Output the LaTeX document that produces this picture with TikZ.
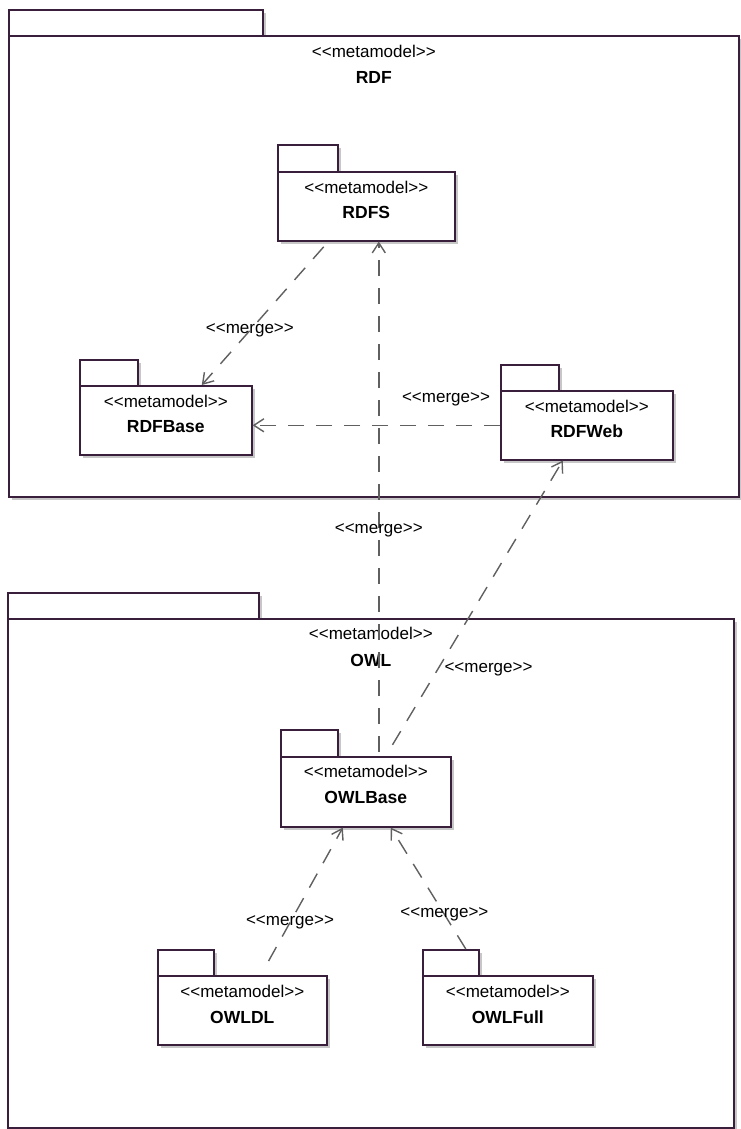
\documentclass[tikz,border=0pt]{standalone}
\usepackage{fontspec}
\setmainfont{Liberation Sans}
\usetikzlibrary{arrows.meta,shadows}
\definecolor{pkgline}{HTML}{3A1F3C}
\definecolor{depline}{HTML}{606060}
\newcommand{\stereo}[1]{<\kern0pt<#1>\kern0pt>}
\tikzset{
  pkg/.style={draw=pkgline, line width=1.6pt, fill=white, inner sep=0pt, anchor=north west,
    drop shadow={shadow xshift=3pt, shadow yshift=-3pt, fill=black!22, opacity=1}},
  stereotype/.style={inner sep=0pt, font=\fontsize{17}{20}\selectfont},
  pkgname/.style={inner sep=0pt, font=\fontsize{17.5}{20}\selectfont\bfseries},
  merge/.style={draw=depline, line width=1.4pt, dash pattern=on 16pt off 12pt,
    -{Straight Barb[length=10pt,width=13pt,line width=1.4pt]}},
  mlabel/.style={inner sep=0pt, text=black, font=\fontsize{17}{20}\selectfont}
}
\begin{document}
\begin{tikzpicture}[x=1pt,y=-1pt]
    \useasboundingbox (0,0) rectangle (741,1129);

    \node[pkg, minimum width=254pt, minimum height=26pt] (rdftab) at (8,9) {};
    \node[pkg, minimum width=730pt, minimum height=461pt] (rdf) at (8,35) {};
    \node[stereotype] (rdfst) at ([yshift=-16pt]rdf.north) {\stereo{metamodel}};
    \node[pkgname] (rdfnm) at ([yshift=-42pt]rdf.north) {RDF};

    \node[pkg, minimum width=60pt, minimum height=27pt] (rdfstab) at (277,144) {};
    \node[pkg, minimum width=177pt, minimum height=69pt] (rdfs) at (277,171) {};
    \node[stereotype] (rdfsst) at ([yshift=-16pt]rdfs.north) {\stereo{metamodel}};
    \node[pkgname] (rdfsnm) at ([yshift=-41.5pt]rdfs.north) {RDFS};

    \node[pkg, minimum width=58pt, minimum height=26pt] (rdfbasetab) at (79,359) {};
    \node[pkg, minimum width=172pt, minimum height=69pt] (rdfbase) at (79,385) {};
    \node[stereotype] (rdfbasest) at ([yshift=-16pt]rdfbase.north) {\stereo{metamodel}};
    \node[pkgname] (rdfbasenm) at ([yshift=-41.5pt]rdfbase.north) {RDFBase};

    \node[pkg, minimum width=58pt, minimum height=26pt] (rdfwebtab) at (500,364) {};
    \node[pkg, minimum width=172pt, minimum height=69pt] (rdfweb) at (500,390) {};
    \node[stereotype] (rdfwebst) at ([yshift=-16pt]rdfweb.north) {\stereo{metamodel}};
    \node[pkgname] (rdfwebnm) at ([yshift=-41.5pt]rdfweb.north) {RDFWeb};

    \node[pkg, minimum width=251pt, minimum height=26pt] (owltab) at (7,592) {};
    \node[pkg, minimum width=726pt, minimum height=509pt] (owl) at (7,618) {};
    \node[stereotype] (owlst) at ([yshift=-15pt]owl.north) {\stereo{metamodel}};
    \node[pkgname] (owlnm) at ([yshift=-42pt]owl.north) {OWL};

    \node[pkg, minimum width=57pt, minimum height=27pt] (owlbasetab) at (280,729) {};
    \node[pkg, minimum width=170pt, minimum height=70pt] (owlbase) at (280,756) {};
    \node[stereotype] (owlbasest) at ([yshift=-15pt]owlbase.north) {\stereo{metamodel}};
    \node[pkgname] (owlbasenm) at ([yshift=-41pt]owlbase.north) {OWLBase};

    \node[pkg, minimum width=56pt, minimum height=26pt] (owldltab) at (157,949) {};
    \node[pkg, minimum width=169pt, minimum height=69pt] (owldl) at (157,975) {};
    \node[stereotype] (owldlst) at ([yshift=-16pt]owldl.north) {\stereo{metamodel}};
    \node[pkgname] (owldlnm) at ([yshift=-42pt]owldl.north) {OWLDL};

    \node[pkg, minimum width=56pt, minimum height=26pt] (owlfulltab) at (422,949) {};
    \node[pkg, minimum width=170pt, minimum height=69pt] (owlfull) at (422,975) {};
    \node[stereotype] (owlfullst) at ([yshift=-16pt]owlfull.north) {\stereo{metamodel}};
    \node[pkgname] (owlfullnm) at ([yshift=-42pt]owlfull.north) {OWLFull};

    \coordinate (owlup) at ([xshift=13pt]owlbase.north);

    \draw[merge, shorten <=7pt] ([xshift=-38pt]rdfs.south) -- ([xshift=36pt]rdfbase.north)
        node[mlabel, pos=0.62] (rdfsmerge) {\stereo{merge}};
    \draw[merge] (rdfweb.west) -- (rdfweb.west -| rdfbase.east)
        node[mlabel, pos=0, xshift=-54pt, yshift=26pt] (webmerge) {\stereo{merge}};
    \draw[merge, shorten <=4pt] (owlup) -- (owlup |- rdfs.south)
        node[mlabel, pos=0.438] (owlmerge) {\stereo{merge}};
    \draw[merge, shorten <=13pt] ([xshift=20pt]owlbase.north) -- ([xshift=-24pt]rdfweb.south)
        node[mlabel, pos=0.294, anchor=west, xshift=6pt] (owlwebmerge) {\stereo{merge}};
    \draw[merge, shorten <=16pt] ([xshift=18.5pt]owldl.north) -- ([xshift=-23pt]owlbase.south)
        node[mlabel, pos=0.356] (dlmerge) {\stereo{merge}};
    \draw[merge] ([xshift=15pt]owlfulltab.north) -- ([xshift=25pt]owlbase.south)
        node[mlabel, pos=0.285] (fullmerge) {\stereo{merge}};
\end{tikzpicture}
\end{document}
